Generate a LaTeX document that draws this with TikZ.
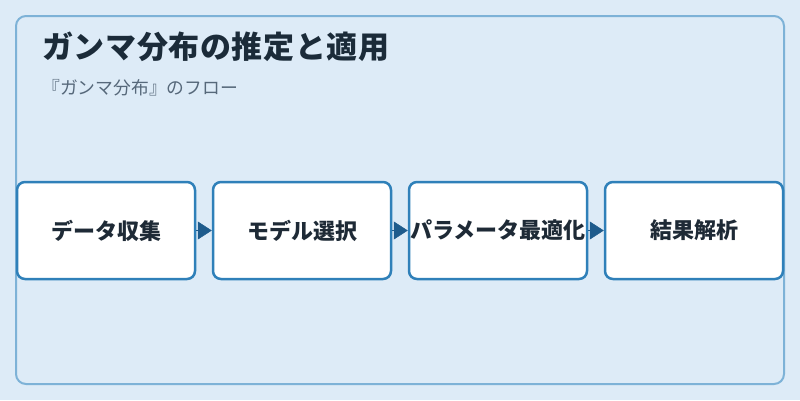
\documentclass[tikz,border=0pt]{standalone}
\usepackage{fontspec}
\usetikzlibrary{arrows.meta}
\newfontfamily\cjk{Noto Sans CJK JP}
\newfontfamily\cjktitle[LetterSpace=2]{Noto Sans CJK JP}
\definecolor{bgc}{HTML}{DDEBF7}
\definecolor{frame}{HTML}{7DB2D7}
\definecolor{boxline}{HTML}{2F80B9}
\definecolor{arrowc}{HTML}{1E5B8C}
\definecolor{titlec}{HTML}{1B2B39}
\definecolor{subc}{HTML}{56687A}
\definecolor{textc}{HTML}{1E2A36}
\tikzset{
  stepbox/.style={draw=boxline, line width=2.5pt, fill=white, rounded corners=8pt,
    minimum width=178pt, minimum height=97pt, inner sep=0pt,
    font=\cjk\bfseries\fontsize{22}{26}\selectfont, text=textc},
  flowarrow/.style={draw=arrowc, line width=0.5pt, -{Triangle[length=14pt,width=18pt]}, fill=arrowc}
}
\begin{document}
\begin{tikzpicture}[x=1pt,y=-1pt]
\useasboundingbox (0,0) rectangle (800,400);
\fill[bgc] (0,0) rectangle (800,400);
\draw[frame, line width=2pt, rounded corners=10pt] (16,16) rectangle (784,384);
\node[anchor=base west, inner sep=0pt, text=titlec, font=\cjktitle\bfseries\fontsize{31}{36}\selectfont] (title) at (42,58) {ガンマ分布の推定と適用};
\node[anchor=base west, inner sep=0pt, text=subc, font=\cjk\fontsize{17.8}{20}\selectfont] (sub) at (42,94) {\makebox[1em][r]{『}ガンマ分布\makebox[1em][l]{』}のフロー};
\node[stepbox] (b1) at (106,230.5) {データ収集};
\node[stepbox] (b2) at (302,230.5) {モデル選択};
\node[stepbox] (b3) at (498,230.5) {パラメータ最適化};
\node[stepbox] (b4) at (694,230.5) {結果解析};
\draw[flowarrow] (b1.east) -- (b2.west);
\draw[flowarrow] (b2.east) -- (b3.west);
\draw[flowarrow] (b3.east) -- (b4.west);
\end{tikzpicture}
\end{document}
